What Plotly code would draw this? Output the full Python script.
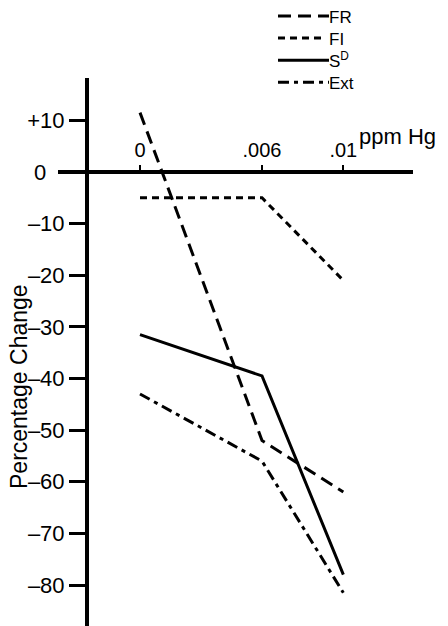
import plotly.graph_objects as go

# ---- data ----
x_vals = [0, 0.006, 0.01]
x_tick_labels = ["0", ".006", ".01"]

series_names = ["FR", "FI", "S<sup>D</sup>", "Ext"]
fr_vals = [11.5, -52, -62]
fi_vals = [-5, -5, -21]
sd_vals = [-31.5, -39.5, -78]
ext_vals = [-43, -56, -81.5]

y_tick_vals = [10, 0, -10, -20, -30, -40, -50, -60, -70, -80]
y_tick_labels = ["+10", "0\u00a0\u00a0\u00a0", "–10", "–20", "–30", "–40",
                 "–50", "–60", "–70", "–80"]

# ---- styling ----
W, H = 448, 626
ML, MR, MT, MB = 89, 35, 78, 0
PW, PH = W - ML - MR, H - MT - MB

def px_x(p):
    return (p - ML) / PW

def px_y(p):
    return (H - MB - p) / PH

REG = "Liberation Sans, Arial, sans-serif"

dashes = ["13px,7px", "7px,5px", "solid", "11px,5px,4px,5px"]
all_vals = [fr_vals, fi_vals, sd_vals, ext_vals]

fig = go.Figure()
for name, vals, d in zip(series_names, all_vals, dashes):
    fig.add_trace(go.Scatter(
        x=x_vals, y=vals, mode="lines", name=name,
        line=dict(color="black", width=3, dash=d),
        showlegend=False,
    ))

# y range so that 0 sits at pixel 172 with ~5.16 px per unit
ppu = 5.1625
y_top = (172 - MT) / ppu
y_bot = -(H - MB - 172) / ppu
# x range: 0 at pixel 140, .006 at 262
xs = (262 - 140) / 0.006
x_left = (ML - 140) / xs
x_right = (W - MR - 140) / xs

fig.update_layout(
    width=W, height=H,
    margin=dict(l=ML, r=MR, t=MT, b=MB),
    paper_bgcolor="white", plot_bgcolor="white",
    font=dict(family=REG, color="black"),
    xaxis=dict(
        range=[x_left, x_right],
        anchor="free", position=px_y(172), side="top",
        showline=True, linewidth=4, linecolor="black",
        ticks="outside", ticklen=5, tickwidth=2, tickcolor="black",
        tickvals=x_vals, ticktext=x_tick_labels,
        tickfont=dict(family=REG, size=20, color="black"),
        showgrid=False, zeroline=False,
    ),
    yaxis=dict(
        range=[y_bot, y_top],
        showline=True, linewidth=4, linecolor="black",
        ticks="outside", ticklen=16, tickwidth=3, tickcolor="black",
        tickvals=y_tick_vals, ticktext=y_tick_labels,
        tickfont=dict(family=REG, size=22, color="black"),
        showgrid=False, zeroline=False,
    ),
)

# extension of the zero line to the left of the y axis
fig.add_shape(type="line", xref="paper", yref="y",
              x0=px_x(58), x1=px_x(89), y0=0, y1=0,
              line=dict(color="black", width=4))

# axis titles as annotations
fig.add_annotation(text="Percentage Change", xref="paper", yref="paper",
                   x=px_x(19), y=px_y(387), textangle=-90, showarrow=False,
                   xanchor="center", yanchor="middle",
                   font=dict(family=REG, size=23, color="black"))
fig.add_annotation(text="ppm Hg", xref="paper", yref="paper",
                   x=px_x(357), y=px_y(136), showarrow=False,
                   xanchor="left", yanchor="middle",
                   font=dict(family=REG, size=22, color="black"))

# manual legend (top right): sample lines + one multi-line label block
leg_size = 17
line_gap = leg_size * 1.3
first_y = 17
leg_x1 = [329, 323, 329, 329]
for i, (d, lx1) in enumerate(zip(dashes, leg_x1)):
    ly = first_y + i * line_gap - 1
    fig.add_shape(type="line", xref="paper", yref="paper",
                  x0=px_x(278), x1=px_x(lx1), y0=px_y(ly), y1=px_y(ly),
                  line=dict(color="black", width=3, dash=d))
fig.add_annotation(text="<br>".join(series_names), xref="paper", yref="paper",
                   x=px_x(327), y=px_y(first_y - line_gap / 2), showarrow=False,
                   xanchor="left", yanchor="top", align="left",
                   font=dict(family=REG, size=leg_size, color="black"))

fig.write_html("out.html", config={"displayModeBar": False},
               post_script="document.body.style.margin='0px';")
